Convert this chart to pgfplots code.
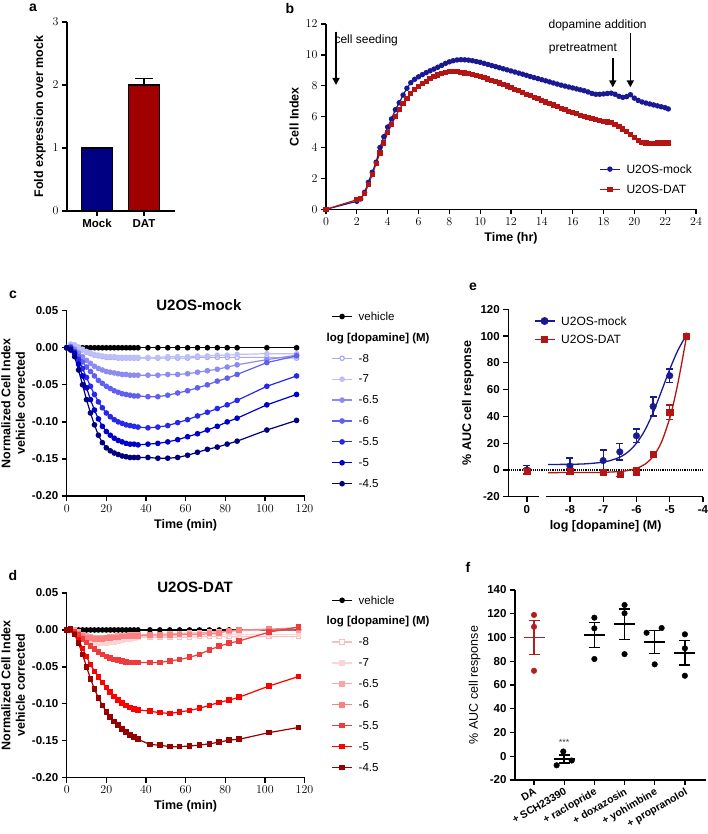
\documentclass[border=0pt]{standalone}
\usepackage{fontspec}
\setmainfont{Liberation Sans}
\usepackage{pgfplots}
\pgfplotsset{compat=1.18}
\usetikzlibrary{arrows.meta}

\definecolor{barblue}{RGB}{0,0,130}
\definecolor{barred}{RGB}{160,0,0}
\definecolor{mockb}{RGB}{25,25,145}
\definecolor{datb}{RGB}{180,20,20}
\definecolor{cm8}{RGB}{170,170,240}
\definecolor{cm7}{RGB}{190,190,250}
\definecolor{cm65}{RGB}{140,140,240}
\definecolor{cm6}{RGB}{95,95,242}
\definecolor{cm55}{RGB}{40,40,235}
\definecolor{cm5}{RGB}{0,0,205}
\definecolor{cm45}{RGB}{0,0,125}
\definecolor{dm8}{RGB}{250,190,190}
\definecolor{dm7}{RGB}{252,212,212}
\definecolor{dm65}{RGB}{250,165,165}
\definecolor{dm6}{RGB}{248,130,130}
\definecolor{dm55}{RGB}{238,60,60}
\definecolor{dm5}{RGB}{255,0,0}
\definecolor{dm45}{RGB}{150,0,0}
\definecolor{fred}{RGB}{180,30,30}

\newcommand{\tkfont}{\fontsize{11.5}{13}\selectfont\bfseries}
\newcommand{\lbfont}{\fontsize{12.5}{14.5}\selectfont\bfseries}
\newcommand{\lgfont}{\fontsize{11.5}{13}\selectfont}
\newcommand{\anfont}{\fontsize{12}{14}\selectfont}
\newcommand{\pfont}{\fontsize{14}{16}\selectfont\bfseries}

\pgfplotsset{
  gp/.style={
    scale only axis, clip=false,
    axis lines=left,
    axis line style={-, line width=1.3pt, black},
    tick style={line width=1.3pt, black},
    tick align=outside, major tick length=5pt,
    minor tick num=0,
    ticklabel style={font=\tkfont},
    label style={font=\lbfont},
    legend cell align=left,
    legend style={draw=none, fill=none, font=\lgfont, nodes={inner sep=2pt}, row sep=6.3pt,
      /tikz/every odd column/.append style={column sep=4pt}},
    legend image code/.code={\draw[mark repeat=2,mark phase=2] plot coordinates {(0pt,0pt) (10pt,0pt) (20pt,0pt)};},
  },
}

\begin{document}
\begin{tikzpicture}
\path[use as bounding box] (0pt,0pt) rectangle (707pt,-834pt);

% ---------- a ----------
\begin{axis}[gp, at={(67pt,-211pt)}, anchor=south west, width=108pt, height=189pt,
  xmin=-0.64, xmax=1.66, ymin=0, ymax=3, ytick={0,1,2,3}, xtick={0,1},
  xticklabels={Mock,DAT}, ylabel={Fold expression over mock}]
\addplot[ybar, bar width=31pt, bar shift=0pt, fill=barblue, draw=black, line width=1.2pt] coordinates {(0,1)};
\addplot[ybar, bar width=31pt, bar shift=0pt, fill=barred, draw=black, line width=1.2pt,
  error bars/.cd, y dir=plus, y explicit, error bar style={line width=1.3pt, black},
  error mark options={rotate=90, mark size=9pt, line width=1.3pt, black}] coordinates {(1,2) +- (0,0.1)};
\end{axis}

% ---------- b ----------
\begin{axis}[gp, at={(326pt,-209.3pt)}, anchor=south west, width=370pt, height=185.3pt,
  xmin=0, xmax=24, ymin=0, ymax=12, xtick={0,2,...,24}, ytick={0,2,...,12},
  xlabel={Time (hr)}, ylabel={Cell Index},
  legend style={at={(0.73,0.27)}, anchor=north west, font=\anfont, row sep=5pt}]
\addplot[mockb, mark=*, mark size=2.1pt, line width=1.2pt] coordinates {
(0,0) (2,0.52) (2.25,0.67) (2.5,1.1) (2.75,1.75) (3,2.4) (3.25,3.05) (3.5,4.0) (3.75,4.7) (4,5.33) (4.25,5.85) (4.5,6.45) (4.75,6.9) (5,7.4) (5.25,7.84) (5.5,8.2) (5.75,8.42) (6,8.58) (6.25,8.72) (6.5,8.85) (6.75,8.97) (7,9.08) (7.25,9.2) (7.5,9.32) (7.75,9.45) (8,9.55) (8.25,9.62) (8.5,9.67) (8.75,9.69) (9,9.68) (9.25,9.66) (9.5,9.62) (9.75,9.57) (10,9.52) (10.25,9.45) (10.5,9.38) (10.75,9.31) (11,9.24) (11.25,9.17) (11.5,9.1) (11.75,9.03) (12,8.96) (12.25,8.89) (12.5,8.82) (12.75,8.75) (13,8.68) (13.25,8.6) (13.5,8.53) (13.75,8.46) (14,8.39) (14.25,8.32) (14.5,8.25) (14.75,8.18) (15,8.11) (15.25,8.04) (15.5,7.98) (15.75,7.92) (16,7.86) (16.25,7.8) (16.5,7.74) (16.75,7.68) (17,7.6) (17.25,7.5) (17.5,7.45) (17.75,7.45) (18,7.47) (18.25,7.5) (18.5,7.52) (18.75,7.45) (19,7.32) (19.25,7.25) (19.5,7.3) (19.75,7.42) (20,7.2) (20.25,7.05) (20.5,6.95) (20.75,6.88) (21,6.82) (21.25,6.76) (21.5,6.7) (21.75,6.64) (22,6.58) (22.2,6.5)};
\addlegendentry{\strut U2OS-mock}
\addplot[datb, mark=square*, mark size=2pt, line width=1.2pt] coordinates {
(0,0) (2,0.62) (2.25,0.7) (2.5,1.0) (2.75,1.6) (3,2.25) (3.25,2.95) (3.5,3.65) (3.75,4.3) (4,4.95) (4.25,5.5) (4.5,6.0) (4.75,6.45) (5,6.85) (5.25,7.2) (5.5,7.5) (5.75,7.75) (6,7.95) (6.25,8.15) (6.5,8.3) (6.75,8.45) (7,8.58) (7.25,8.7) (7.5,8.8) (7.75,8.88) (8,8.93) (8.25,8.94) (8.5,8.92) (8.75,8.88) (9,8.83) (9.25,8.78) (9.5,8.72) (9.75,8.66) (10,8.6) (10.25,8.52) (10.5,8.44) (10.75,8.36) (11,8.27) (11.25,8.18) (11.5,8.08) (11.75,7.98) (12,7.88) (12.25,7.77) (12.5,7.67) (12.75,7.56) (13,7.45) (13.25,7.35) (13.5,7.25) (13.75,7.15) (14,7.05) (14.25,6.95) (14.5,6.85) (14.75,6.75) (15,6.65) (15.25,6.55) (15.5,6.45) (15.75,6.35) (16,6.26) (16.25,6.18) (16.5,6.1) (16.75,6.02) (17,5.95) (17.25,5.88) (17.5,5.82) (17.75,5.76) (18,5.7) (18.25,5.65) (18.5,5.6) (18.75,5.5) (19,5.35) (19.25,5.2) (19.5,5.02) (19.75,4.85) (20,4.65) (20.25,4.45) (20.5,4.33) (20.75,4.3) (21,4.28) (21.25,4.28) (21.5,4.3) (21.75,4.3) (22,4.3) (22.2,4.3)};
\addlegendentry{\strut U2OS-DAT}
\draw[-{Triangle[length=7pt,width=7pt]}, line width=1.6pt] (axis cs:0.65,11.5) -- (axis cs:0.65,8.05);
\draw[-{Triangle[length=7pt,width=7pt]}, line width=1.6pt] (axis cs:18.6,9.8) -- (axis cs:18.6,7.9);
\draw[-{Triangle[length=7pt,width=7pt]}, line width=1.6pt] (axis cs:19.74,11.4) -- (axis cs:19.74,7.9);
\node[anchor=west, inner sep=0pt, font=\anfont] at (axis cs:0.54,10.97) {cell seeding};
\node[inner sep=0pt, font=\anfont] at (axis cs:16.66,10.37) {pretreatment};
\node[inner sep=0pt, font=\anfont] at (axis cs:17.62,11.88) {dopamine addition};
\end{axis}

% ---------- c ----------
\begin{axis}[gp, at={(66.7pt,-496pt)}, anchor=south west, width=237.8pt, height=185.3pt,
  xmin=0, xmax=120, ymin=-0.2, ymax=0.05, xtick={0,20,...,120},
  ytick={-0.2,-0.15,-0.1,-0.05,0,0.05}, yticklabels={-0.20,-0.15,-0.10,-0.05,0.00,0.05},
  xlabel={Time (min)}, ylabel={Normalized Cell Index\\vehicle corrected}, ylabel style={align=center},
  title={U2OS-mock}, title style={at={(0.556,1)}, anchor=center, font=\fontsize{15}{17}\selectfont\bfseries},
  legend style={at={(1.1,1.02)}, anchor=north west}]
\addplot[black, mark=*, mark size=2.2pt, line width=1.2pt] coordinates {(0,0) (2,0) (4,0) (6,0) (8,0) (10,0) (12,0) (14,0) (16,0) (18,0) (20,0) (22,0) (24,0) (26,0) (28,0) (30,0) (32,0) (34,0) (36,0) (41,0) (46,0) (51,0) (56,0) (61,0) (66,0) (71,0) (76,0) (81,0) (86,0) (101,0) (116,0)};
\addlegendentry{\strut vehicle}
\addlegendimage{empty legend}
\addlegendentry{\strut\hspace*{-32pt}\textbf{log [dopamine] (M)}}
\addplot[cm8, mark=*, mark options={fill=white}, mark size=2.2pt, line width=1.2pt] coordinates {(0,0) (2,0.004) (4,0.003) (6,0) (8,-0.003) (10,-0.006) (12,-0.008) (14,-0.01) (16,-0.011) (18,-0.012) (20,-0.013) (22,-0.013) (24,-0.013) (26,-0.014) (28,-0.014) (30,-0.014) (32,-0.014) (34,-0.014) (36,-0.014) (41,-0.014) (46,-0.014) (51,-0.014) (56,-0.014) (61,-0.014) (66,-0.013) (71,-0.013) (76,-0.013) (81,-0.013) (86,-0.013) (101,-0.013) (116,-0.014)};
\addlegendentry{\strut -8}
\addplot[cm7, mark=*, mark size=2.2pt, line width=1.2pt] coordinates {(0,0) (2,0.005) (4,0.004) (6,0.001) (8,-0.002) (10,-0.005) (12,-0.007) (14,-0.009) (16,-0.01) (18,-0.011) (20,-0.012) (22,-0.012) (24,-0.012) (26,-0.013) (28,-0.013) (30,-0.013) (32,-0.013) (34,-0.013) (36,-0.013) (41,-0.013) (46,-0.013) (51,-0.012) (56,-0.012) (61,-0.012) (66,-0.011) (71,-0.011) (76,-0.01) (81,-0.01) (86,-0.009) (101,-0.008) (116,-0.008)};
\addlegendentry{\strut -7}
\addplot[cm65, mark=*, mark size=2.2pt, line width=1.2pt] coordinates {(0,0) (2,0.002) (4,-0.002) (6,-0.007) (8,-0.012) (10,-0.017) (12,-0.021) (14,-0.025) (16,-0.028) (18,-0.03) (20,-0.032) (22,-0.033) (24,-0.034) (26,-0.035) (28,-0.036) (30,-0.036) (32,-0.037) (34,-0.037) (36,-0.037) (41,-0.037) (46,-0.037) (51,-0.036) (56,-0.036) (61,-0.035) (66,-0.033) (71,-0.031) (76,-0.029) (81,-0.026) (86,-0.023) (101,-0.016) (116,-0.01)};
\addlegendentry{\strut -6.5}
\addplot[cm6, mark=*, mark size=2.2pt, line width=1.2pt] coordinates {(0,0) (2,0.001) (4,-0.005) (6,-0.012) (8,-0.019) (10,-0.026) (12,-0.032) (14,-0.038) (16,-0.044) (18,-0.048) (20,-0.052) (22,-0.055) (24,-0.058) (26,-0.06) (28,-0.062) (30,-0.063) (32,-0.064) (34,-0.065) (36,-0.065) (41,-0.066) (46,-0.066) (51,-0.064) (56,-0.061) (61,-0.058) (66,-0.054) (71,-0.05) (76,-0.045) (81,-0.041) (86,-0.036) (101,-0.02) (116,-0.011)};
\addlegendentry{\strut -6}
\addplot[cm55, mark=*, mark size=2.2pt, line width=1.2pt] coordinates {(0,0) (2,0) (4,-0.006) (6,-0.016) (8,-0.028) (10,-0.04) (12,-0.052) (14,-0.063) (16,-0.073) (18,-0.081) (20,-0.088) (22,-0.093) (24,-0.097) (26,-0.1) (28,-0.102) (30,-0.104) (32,-0.105) (34,-0.106) (36,-0.107) (41,-0.108) (46,-0.107) (51,-0.105) (56,-0.101) (61,-0.097) (66,-0.092) (71,-0.087) (76,-0.082) (81,-0.077) (86,-0.071) (101,-0.052) (116,-0.038)};
\addlegendentry{\strut -5.5}
\addplot[cm5, mark=*, mark size=2.2pt, line width=1.2pt] coordinates {(0,0) (2,-0.002) (4,-0.008) (6,-0.022) (8,-0.038) (10,-0.054) (12,-0.07) (14,-0.084) (16,-0.096) (18,-0.106) (20,-0.113) (22,-0.118) (24,-0.122) (26,-0.125) (28,-0.127) (30,-0.129) (32,-0.13) (34,-0.13) (36,-0.131) (41,-0.13) (46,-0.129) (51,-0.127) (56,-0.124) (61,-0.12) (66,-0.116) (71,-0.111) (76,-0.106) (81,-0.1) (86,-0.095) (101,-0.077) (116,-0.063)};
\addlegendentry{\strut -5}
\addplot[cm45, mark=*, mark size=2.2pt, line width=1.2pt] coordinates {(0,0) (2,-0.003) (4,-0.012) (6,-0.03) (8,-0.05) (10,-0.07) (12,-0.088) (14,-0.104) (16,-0.118) (18,-0.128) (20,-0.135) (22,-0.139) (24,-0.142) (26,-0.144) (28,-0.146) (30,-0.147) (32,-0.148) (34,-0.148) (36,-0.148) (41,-0.148) (46,-0.149) (51,-0.149) (56,-0.148) (61,-0.145) (66,-0.141) (71,-0.137) (76,-0.134) (81,-0.13) (86,-0.126) (101,-0.111) (116,-0.098)};
\addlegendentry{\strut -4.5}
\end{axis}

% ---------- d ----------
\begin{axis}[gp, at={(66.7pt,-777.7pt)}, anchor=south west, width=237.8pt, height=184.7pt,
  xmin=0, xmax=120, ymin=-0.2, ymax=0.05, xtick={0,20,...,120},
  ytick={-0.2,-0.15,-0.1,-0.05,0,0.05}, yticklabels={-0.20,-0.15,-0.10,-0.05,0.00,0.05},
  xlabel={Time (min)}, ylabel={Normalized Cell Index\\vehicle corrected}, ylabel style={align=center},
  title={U2OS-DAT}, title style={at={(0.54,1)}, anchor=center, font=\fontsize{15}{17}\selectfont\bfseries},
  legend style={at={(1.1,1.012)}, anchor=north west}]
\addplot[black, mark=*, mark size=2.2pt, line width=1.2pt] coordinates {(0,0) (2,0) (4,0) (6,0) (8,0) (10,0) (12,0) (14,0) (16,0) (18,0) (20,0) (22,0) (24,0) (26,0) (28,0) (30,0) (32,0) (34,0) (36,0) (42,0) (47,0) (52,0) (57,0) (62,0) (67,0) (72,0) (77,0) (82,0) (87,0) (102,0) (117,0)};
\addlegendentry{\strut vehicle}
\addlegendimage{empty legend}
\addlegendentry{\strut\hspace*{-32pt}\textbf{log [dopamine] (M)}}
\addplot[dm8, mark=square*, mark options={fill=white}, mark size=2.2pt, line width=1.2pt] coordinates {(0,0) (2,0.002) (4,0) (6,-0.003) (8,-0.006) (10,-0.008) (12,-0.01) (14,-0.011) (16,-0.012) (18,-0.012) (20,-0.012) (22,-0.012) (24,-0.012) (26,-0.012) (28,-0.011) (30,-0.011) (32,-0.011) (34,-0.01) (36,-0.01) (42,-0.01) (47,-0.01) (52,-0.01) (57,-0.01) (62,-0.01) (67,-0.009) (72,-0.009) (77,-0.009) (82,-0.009) (87,-0.009) (102,-0.009) (117,-0.009)};
\addlegendentry{\strut -8}
\addplot[dm7, mark=square*, mark size=2.2pt, line width=1.2pt] coordinates {(0,0) (2,0.002) (4,-0.001) (6,-0.005) (8,-0.009) (10,-0.012) (12,-0.015) (14,-0.017) (16,-0.018) (18,-0.018) (20,-0.018) (22,-0.017) (24,-0.016) (26,-0.015) (28,-0.014) (30,-0.013) (32,-0.012) (34,-0.011) (36,-0.01) (42,-0.009) (47,-0.008) (52,-0.008) (57,-0.007) (62,-0.007) (67,-0.006) (72,-0.006) (77,-0.006) (82,-0.006) (87,-0.006) (102,-0.006) (117,-0.006)};
\addlegendentry{\strut -7}
\addplot[dm65, mark=square*, mark size=2.2pt, line width=1.2pt] coordinates {(0,0) (2,0.002) (4,0) (6,-0.003) (8,-0.006) (10,-0.008) (12,-0.009) (14,-0.01) (16,-0.01) (18,-0.01) (20,-0.01) (22,-0.009) (24,-0.009) (26,-0.008) (28,-0.008) (30,-0.008) (32,-0.007) (34,-0.007) (36,-0.007) (42,-0.006) (47,-0.006) (52,-0.005) (57,-0.005) (62,-0.004) (67,-0.004) (72,-0.003) (77,-0.002) (82,-0.002) (87,-0.001) (102,0) (117,0)};
\addlegendentry{\strut -6.5}
\addplot[dm6, mark=square*, mark size=2.2pt, line width=1.2pt] coordinates {(0,0) (2,0.001) (4,-0.002) (6,-0.005) (8,-0.008) (10,-0.01) (12,-0.011) (14,-0.012) (16,-0.012) (18,-0.012) (20,-0.011) (22,-0.011) (24,-0.01) (26,-0.01) (28,-0.009) (30,-0.009) (32,-0.008) (34,-0.008) (36,-0.008) (42,-0.007) (47,-0.007) (52,-0.007) (57,-0.006) (62,-0.006) (67,-0.006) (72,-0.005) (77,-0.004) (82,-0.001) (87,0) (102,0.001) (117,0.003)};
\addlegendentry{\strut -6}
\addplot[dm55, mark=square*, mark size=2.2pt, line width=1.2pt] coordinates {(0,0) (2,0.001) (4,-0.002) (6,-0.007) (8,-0.012) (10,-0.017) (12,-0.022) (14,-0.026) (16,-0.03) (18,-0.033) (20,-0.036) (22,-0.038) (24,-0.04) (26,-0.041) (28,-0.042) (30,-0.043) (32,-0.044) (34,-0.044) (36,-0.044) (42,-0.044) (47,-0.044) (52,-0.042) (57,-0.04) (62,-0.037) (67,-0.033) (72,-0.027) (77,-0.022) (82,-0.018) (87,-0.015) (102,-0.003) (117,0.004)};
\addlegendentry{\strut -5.5}
\addplot[dm5, mark=square*, mark size=2.2pt, line width=1.2pt] coordinates {(0,0) (2,0) (4,-0.005) (6,-0.013) (8,-0.025) (10,-0.036) (12,-0.047) (14,-0.056) (16,-0.064) (18,-0.071) (20,-0.078) (22,-0.084) (24,-0.09) (26,-0.095) (28,-0.099) (30,-0.102) (32,-0.105) (34,-0.107) (36,-0.108) (42,-0.11) (47,-0.112) (52,-0.113) (57,-0.111) (62,-0.109) (67,-0.106) (72,-0.102) (77,-0.098) (82,-0.095) (87,-0.091) (102,-0.076) (117,-0.063)};
\addlegendentry{\strut -5}
\addplot[dm45, mark=square*, mark size=2.2pt, line width=1.2pt] coordinates {(0,0) (2,0.001) (4,-0.006) (6,-0.018) (8,-0.033) (10,-0.05) (12,-0.066) (14,-0.08) (16,-0.092) (18,-0.102) (20,-0.111) (22,-0.118) (24,-0.124) (26,-0.129) (28,-0.134) (30,-0.138) (32,-0.142) (34,-0.145) (36,-0.148) (42,-0.155) (47,-0.156) (52,-0.158) (57,-0.158) (62,-0.157) (67,-0.156) (72,-0.154) (77,-0.152) (82,-0.149) (87,-0.148) (102,-0.139) (117,-0.132)};
\addlegendentry{\strut -4.5}
\end{axis}

% ---------- e ----------
\begin{axis}[gp, at={(508.3pt,-496.7pt)}, anchor=south west, width=194.7pt, height=187.4pt,
  xmin=-9.85, xmax=-4, ymin=-20, ymax=120,
  xtick={-9.29,-8,-7,-6,-5,-4}, xticklabels={0,-8,-7,-6,-5,-4},
  ytick={-20,0,20,40,60,80,100,120}, yticklabels={-20,0,20,40,60,80,100,120},
  xlabel={log [dopamine] (M)}, ylabel={\% AUC cell response},
  legend style={at={(0.115,0.99)}, anchor=north west, font=\anfont, row sep=3pt}]
\addplot[black, densely dotted, line width=1.2pt, forget plot] coordinates {(-9.85,0) (-4,0)};
\addplot[mockb, line width=1.3pt, smooth, forget plot] coordinates {(-8.65,4.1) (-8,4.2) (-7.5,4.6) (-7,5.8) (-6.75,7.3) (-6.5,9.5) (-6.25,13.5) (-6,19.9) (-5.75,29.5) (-5.5,42.7) (-5.25,58.7) (-5,75.1) (-4.75,89.6) (-4.5,100.7)};
\addplot[datb, line width=1.3pt, smooth, forget plot] coordinates {(-8.65,-2) (-7.5,-1.95) (-7,-1.8) (-6.5,-1.2) (-6.25,-0.4) (-6,1.15) (-5.75,4.2) (-5.5,10) (-5.25,20.6) (-5,38.6) (-4.875,50.9) (-4.75,65.4) (-4.625,81.7) (-4.5,99)};
\addplot[mockb, only marks, mark=*, mark size=3.3pt, forget plot, error bars/.cd, y dir=both, y explicit,
  error bar style={line width=1.3pt}, error mark options={rotate=90, mark size=3.5pt, line width=1.3pt}] coordinates {
  (-9.29,0) +- (0,3.5) (-8,3) +- (0,6) (-7,7) +- (0,8) (-6.5,13.5) +- (0,6) (-6,25.5) +- (0,5) (-5.5,47.4) +- (0,7) (-5,70.4) +- (0,5) (-4.5,100) +- (0,0)};
\addplot[datb, only marks, mark=square*, mark size=3.1pt, forget plot, error bars/.cd, y dir=both, y explicit,
  error bar style={line width=1.3pt}, error mark options={rotate=90, mark size=3.5pt, line width=1.3pt}] coordinates {
  (-9.29,-1) +- (0,2) (-8,-1) +- (0,2) (-7,-1.5) +- (0,2) (-6.5,-3) +- (0,2) (-6,-1) +- (0,3) (-5.5,12) +- (0,2) (-5,43) +- (0,5.5) (-4.5,100) +- (0,0)};
\addlegendimage{mockb, mark=*, mark size=3.3pt, line width=1.3pt}
\addlegendentry{\strut U2OS-mock}
\addlegendimage{datb, mark=square*, mark size=3.1pt, line width=1.3pt}
\addlegendentry{\strut U2OS-DAT}
\fill[white] ([yshift=-3pt]axis cs:-8.93,-20) rectangle ([yshift=3pt]axis cs:-8.72,-20);
\end{axis}

% ---------- f ----------
\begin{axis}[gp, at={(515pt,-780pt)}, anchor=south west, width=191pt, height=190pt,
  xmin=-0.63, xmax=5.7, ymin=-20, ymax=140, xtick={0,...,5},
  xticklabels={DA,+ SCH23390,+ raclopride,+ doxazosin,+ yohimbine,+ propranolol},
  xticklabel style={rotate=30, anchor=north east, inner sep=1.5pt, font=\fontsize{10.5}{12}\selectfont\bfseries},
  ytick={-20,0,20,40,60,80,100,120,140}, yticklabels={-20,0,20,40,60,80,100,120,140},
  ylabel={\% AUC cell response}, ylabel style={font=\fontsize{12.5}{14}\selectfont}]
\addplot[draw=none, mark=-, mark size=10.5pt, mark options={line width=1.4pt, draw=fred},
  error bars/.cd, y dir=both, y explicit, error bar style={line width=1.4pt, fred},
  error mark options={rotate=90, mark size=5.5pt, line width=1.4pt, draw=fred}] coordinates {(0,100) +- (0,14.3)};
\addplot[draw=none, mark=-, mark size=10.5pt, mark options={line width=1.4pt, draw=black},
  error bars/.cd, y dir=both, y explicit, error bar style={line width=1.4pt, black},
  error mark options={rotate=90, mark size=5.5pt, line width=1.4pt, draw=black}] coordinates {
  (1,-2.4) +- (0,3.4) (2,102.1) +- (0,10.4) (3,111.3) +- (0,12.8) (4,96.3) +- (0,9.7) (5,87.1) +- (0,10.2)};
\addplot[only marks, mark=*, mark size=2.8pt, fred] coordinates {(0,119) (0,109) (0,72)};
\addplot[only marks, mark=*, mark size=2.8pt, black] coordinates {(0.97,4) (0.75,-7.6) (1.25,-3.6) (2,116.7) (2,107.7) (2,81.9) (3,127.4) (3,120.4) (3,86) (3.73,104) (4.23,108) (4,77.4) (5,102.7) (5,90.9) (5,67.8)};
\node[font=\fontsize{9}{10}\selectfont, text=black!75] at (axis cs:1,12) {***};
\end{axis}

% panel letters
\node[font=\pfont, anchor=center] at (33pt,-8pt) {a};
\node[font=\pfont, anchor=center] at (290pt,-8pt) {b};
\node[font=\pfont, anchor=center] at (13pt,-295pt) {c};
\node[font=\pfont, anchor=center] at (473pt,-287pt) {e};
\node[font=\pfont, anchor=center] at (13pt,-575pt) {d};
\node[font=\pfont, anchor=center] at (468pt,-567pt) {f};
\end{tikzpicture}
\end{document}
